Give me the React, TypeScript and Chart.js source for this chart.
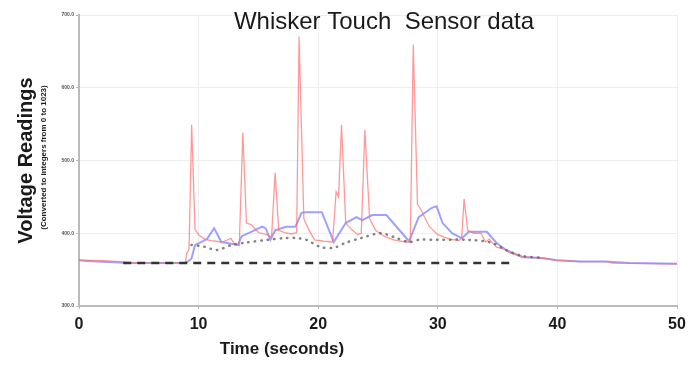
import React, { useEffect, useRef } from "react";
import { Chart, registerables } from "chart.js";

Chart.register(...registerables);

const TITLE = "Whisker Touch  Sensor data";
const Y_TITLE = "Voltage Readings";
const Y_SUBTITLE = "(Converted to integers from 0 to 1023)";
const X_TITLE = "Time (seconds)";

const X_TICKS = [0, 10, 20, 30, 40, 50];
const Y_TICKS = [300, 400, 500, 600, 700];

// Raw sensor reading (red)
const rawTime = [0, 2, 3.5, 4.5, 6, 8, 8.9, 9.0, 9.2, 9.42, 9.7, 10.0, 10.5, 11.0, 12.0, 12.7, 13.0, 13.4, 13.7, 14.0, 14.4, 15.0, 15.7, 16.1, 16.4, 16.7, 17.2, 17.8, 18.2, 18.4, 18.8, 19.2, 19.7, 20.5, 21.2, 21.5, 21.7, 21.95, 22.3, 22.8, 23.3, 23.6, 23.9, 24.3, 24.8, 25.5, 26.3, 27.3, 27.7, 27.95, 28.3, 28.6, 29.3, 30.0, 31.0, 31.8, 32.0, 32.2, 32.5, 33.0, 33.6, 34.0, 34.3, 34.9, 35.6, 36.0, 37.1, 38.5, 39.9, 41.9, 44.1, 44.6, 50];
const rawValue = [363, 362.5, 361, 359.5, 359, 359, 360, 372, 378, 549, 405, 398, 392, 390, 388, 393, 385, 383, 538, 414, 412, 401, 398, 395, 483, 404, 401, 399, 401, 670, 420, 405, 391, 389, 388, 457, 450, 549, 414, 405, 398, 400, 542, 420, 404, 396, 391, 388, 388, 659, 440, 432, 409, 398, 392, 390, 395, 447, 404, 400, 400, 388, 392, 381, 378, 373, 368, 366, 363, 361, 361, 359, 358];

// Smoothed reading (blue)
const smoothTime = [0, 0.7, 1.5, 3, 4, 8.9, 9.0, 9.4, 9.7, 10.0, 10.7, 11.3, 11.9, 13.3, 13.6, 14.4, 15.3, 15.6, 16.0, 16.4, 17.3, 18.1, 18.6, 19.0, 20.3, 21.3, 22.3, 23.2, 23.7, 24.5, 25.7, 27.6, 28.4, 29.5, 29.9, 30.4, 31.2, 32.0, 32.6, 34.1, 34.9, 35.7, 37.1, 38.8, 39.9, 41.9, 44.0, 46.0, 50];
const smoothValue = [363, 362, 361, 360, 359, 359, 360, 365, 384, 386, 392, 407, 388, 384, 396, 402, 409, 407, 391, 404, 409, 409, 428, 429, 429, 388, 414, 422, 418, 425, 425, 389, 422, 435, 437, 414, 400, 393, 402, 402, 387, 377, 367, 366, 363, 361, 361, 359, 358];

// Slow moving average (dotted)
const avgTime = [9.4, 10.5, 11.5, 12.8, 13.9, 15.8, 17.3, 18.1, 19.0, 20.2, 21.3, 22.3, 23.6, 25.2, 26.3, 27.6, 28.4, 30.0, 32.5, 34.5, 35.7, 37.0, 38.8];
const avgValue = [384, 381.5, 377, 384, 387, 391, 393.5, 393.5, 391, 381, 380, 387, 393.5, 400, 395, 388, 391, 391, 391, 387, 377, 369, 366];

// Baseline (dashed)
const baseTime = [3.7, 36.4];
const baseValue = [359, 359];

const pts = (t: number[], v: number[]) => t.map((x, i) => ({ x, y: v[i] }));

const FONT = "'Liberation Sans', Arial, Helvetica, sans-serif";

const textPlugin = {
  id: "customText",
  afterDraw(chart: any) {
    const ctx = chart.ctx as CanvasRenderingContext2D;
    const area = chart.chartArea;
    ctx.save();
    ctx.fillStyle = "#1a1a1a";
    ctx.textAlign = "center";
    ctx.textBaseline = "middle";
    ctx.font = `24px ${FONT}`;
    ctx.fillText(TITLE, 384, 22);

    ctx.font = `bold 17px ${FONT}`;
    ctx.fillText(X_TITLE, 282, 349);

    const cy = (area.top + area.bottom) / 2;
    ctx.save();
    ctx.translate(26, cy);
    ctx.rotate(-Math.PI / 2);
    ctx.font = `bold 20px ${FONT}`;
    ctx.fillText(Y_TITLE, 0, 0);
    ctx.restore();
    ctx.save();
    ctx.translate(44, cy - 3);
    ctx.rotate(-Math.PI / 2);
    ctx.font = `bold 8px ${FONT}`;
    ctx.fillText(Y_SUBTITLE, 0, 0);
    ctx.restore();
    ctx.restore();
  },
};

export default function App() {
  const ref = useRef<HTMLCanvasElement | null>(null);
  useEffect(() => {
    if (!ref.current) return;
    const chart = new Chart(ref.current, {
      type: "line",
      data: {
        datasets: [
          {
            label: "Raw",
            data: pts(rawTime, rawValue),
            borderColor: "rgba(255,110,110,0.7)",
            borderWidth: 1.3,
            pointRadius: 0,
            tension: 0,
            order: 1,
          },
          {
            label: "Smoothed",
            data: pts(smoothTime, smoothValue),
            borderColor: "rgba(120,120,255,0.7)",
            borderWidth: 2,
            pointRadius: 0,
            tension: 0,
            order: 2,
          },
          {
            label: "Average",
            data: pts(avgTime, avgValue),
            borderColor: "rgba(100,100,100,0.8)",
            borderWidth: 2.5,
            borderDash: [0.5, 6],
            borderCapStyle: "round",
            pointRadius: 0,
            tension: 0.3,
            order: 0,
          },
          {
            label: "Baseline",
            data: pts(baseTime, baseValue),
            borderColor: "#333333",
            borderWidth: 2.5,
            borderDash: [8, 6],
            pointRadius: 0,
            order: 0,
          },
        ],
      },
      options: {
        responsive: false,
        animation: false,
        layout: { padding: { left: 0, right: 19, top: 15, bottom: 0 } },
        plugins: {
          legend: { display: false },
          title: { display: false },
          tooltip: { enabled: false },
        },
        scales: {
          x: {
            type: "linear",
            min: 0,
            max: 50,
            afterBuildTicks: (s: any) => {
              s.ticks = X_TICKS.map((v) => ({ value: v }));
            },
            afterFit: (s: any) => {
              s.height = 67;
            },
            ticks: {
              color: "#1a1a1a",
              font: { family: FONT, size: 16, weight: "bold" },
              padding: 6,
              maxRotation: 0,
            },
            grid: { color: "#eeeeee", lineWidth: 1, tickLength: 3, tickColor: "#bbbbbb" },
            border: { color: "#bbbbbb", width: 2 },
          },
          y: {
            type: "linear",
            min: 300,
            max: 700,
            afterBuildTicks: (s: any) => {
              s.ticks = Y_TICKS.map((v) => ({ value: v }));
            },
            afterFit: (s: any) => {
              s.width = 79;
            },
            ticks: {
              color: "#555555",
              font: { family: FONT, size: 5, weight: "bold" },
              padding: 2,
              callback: (v: any) => Number(v).toFixed(1),
            },
            grid: { color: "#eeeeee", lineWidth: 1, tickLength: 3, tickColor: "#bbbbbb" },
            border: { color: "#bbbbbb", width: 2 },
          },
        },
      },
      plugins: [textPlugin],
    });
    return () => chart.destroy();
  }, []);
  return (
    <div style={{ position: "fixed", left: 0, top: 0, width: 696, height: 373, background: "#fff" }}>
      <canvas ref={ref} width={696} height={373} />
    </div>
  );
}
